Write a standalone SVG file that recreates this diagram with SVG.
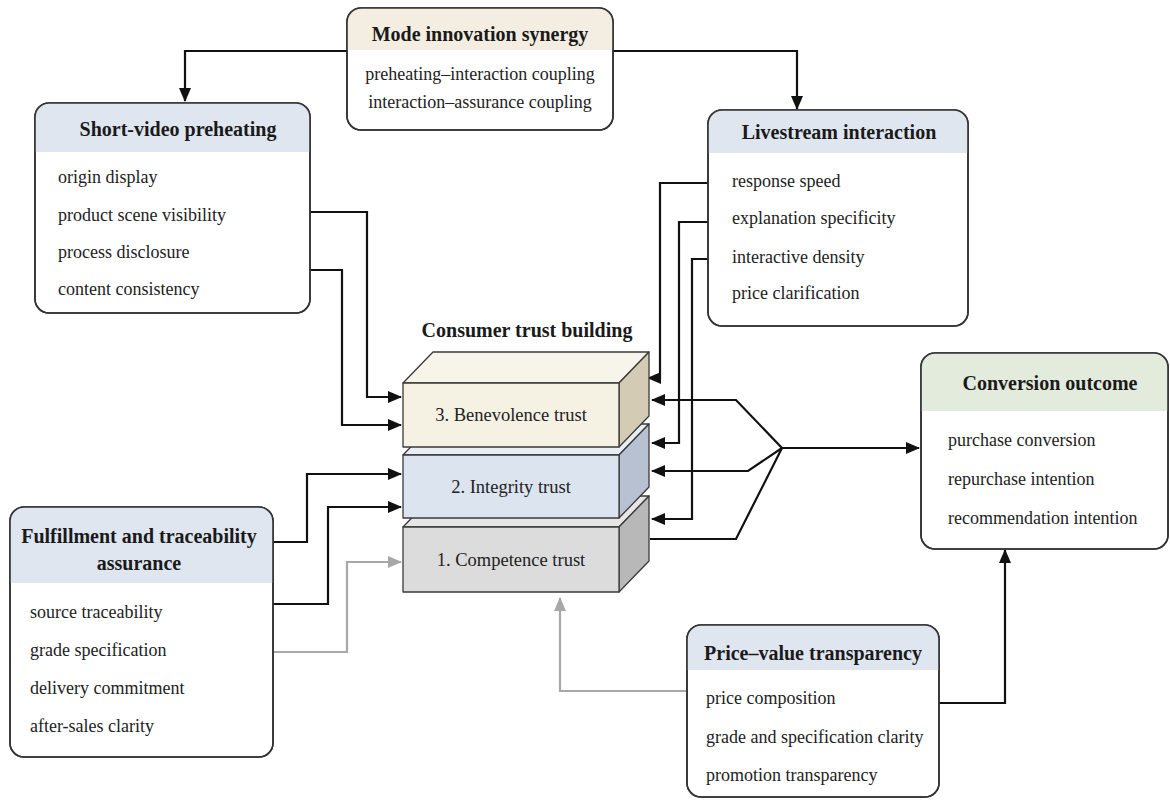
<svg xmlns="http://www.w3.org/2000/svg" width="1170" height="802" viewBox="0 0 1170 802">
<defs>
<style>
.box{fill:#ffffff;stroke:#333333;stroke-width:1.6}
.hb{fill:#dfe6f0}
.hc{fill:#f3eee1}
.hg{fill:#e3ebdd}
.t{font-family:"Liberation Serif","Times New Roman",serif;font-size:20px;font-weight:bold;fill:#1a1a1a;text-anchor:middle}
.i{font-family:"Liberation Serif","Times New Roman",serif;font-size:18px;fill:#222222}
.ic{font-family:"Liberation Serif","Times New Roman",serif;font-size:18px;fill:#222222;text-anchor:middle}
.bl{font-family:"Liberation Serif","Times New Roman",serif;font-size:18.5px;fill:#222222;text-anchor:middle}
.c{fill:none;stroke:#111111;stroke-width:2.2}
.g{fill:none;stroke:#a8a8a8;stroke-width:2.2}
.f{stroke:#3a3a3a;stroke-width:1.3;stroke-linejoin:round}
.o{fill:none;stroke:#333333;stroke-width:1.6}
</style>
<marker id="ab" markerUnits="userSpaceOnUse" markerWidth="14" markerHeight="12" refX="13" refY="6" orient="auto"><path d="M0,0 L14,6 L0,12 Z" fill="#111111"/></marker>
<marker id="ag" markerUnits="userSpaceOnUse" markerWidth="14" markerHeight="12" refX="13" refY="6" orient="auto"><path d="M0,0 L14,6 L0,12 Z" fill="#a8a8a8"/></marker>
<clipPath id="cm"><rect x="347" y="8" width="266" height="122" rx="14"/></clipPath>
<clipPath id="cs"><rect x="35" y="103" width="275" height="210" rx="14"/></clipPath>
<clipPath id="cl"><rect x="708" y="110" width="260" height="216" rx="14"/></clipPath>
<clipPath id="cf"><rect x="10" y="507" width="263" height="250" rx="14"/></clipPath>
<clipPath id="cp"><rect x="687" y="625" width="252" height="172" rx="14"/></clipPath>
<clipPath id="cc"><rect x="921" y="353" width="247" height="196" rx="14"/></clipPath>
</defs>
<rect width="1170" height="802" fill="#ffffff"/>

<g id="connectors">
<polyline class="c" points="347,51 185,51 185,101" marker-end="url(#ab)"/>
<polyline class="c" points="613,51 797,51 797,109" marker-end="url(#ab)"/>
<polyline class="c" points="310,212 367,212 367,397 401,397" marker-end="url(#ab)"/>
<polyline class="c" points="310,270 342,270 342,425 401,425" marker-end="url(#ab)"/>
<polyline class="c" points="273,542 307,542 307,474 401,474" marker-end="url(#ab)"/>
<polyline class="c" points="273,604 328,604 328,507 401,507" marker-end="url(#ab)"/>
<polyline class="g" points="273,652 347,652 347,562 401,562" marker-end="url(#ag)"/>
<polyline class="c" points="708,183 660,183 660,378 648,378" marker-end="url(#ab)"/>
<polyline class="c" points="708,222 679,222 679,443 652,443" marker-end="url(#ab)"/>
<polyline class="c" points="708,259 692,259 692,519 652,519" marker-end="url(#ab)"/>
<polyline class="c" points="782,448 736,400 652,400" marker-end="url(#ab)"/>
<polyline class="c" points="782,448 748,471 652,471" marker-end="url(#ab)"/>
<polyline class="c" points="782,448 736,539 650,539"/>
<polyline class="c" points="782,448 919,448" marker-end="url(#ab)"/>
<polyline class="g" points="687,691 560,691 560,598" marker-end="url(#ag)"/>
<polyline class="c" points="939,703 1005,703 1005,550" marker-end="url(#ab)"/>
</g>

<g id="mode-innovation-synergy">
<rect class="box" x="347" y="8" width="266" height="122" rx="14"/>
<g clip-path="url(#cm)"><rect class="hc" x="347" y="8" width="266" height="42"/></g>
<rect class="o" x="347" y="8" width="266" height="122" rx="14"/>
<text class="t" x="480" y="41">Mode innovation synergy</text>
<text class="ic" x="480" y="80">preheating–interaction coupling</text>
<text class="ic" x="480" y="108">interaction–assurance coupling</text>
</g>

<g id="short-video-preheating">
<rect class="box" x="35" y="103" width="275" height="210" rx="14"/>
<g clip-path="url(#cs)"><rect class="hb" x="35" y="103" width="275" height="49"/></g>
<rect class="o" x="35" y="103" width="275" height="210" rx="14"/>
<text class="t" x="178" y="136">Short-video preheating</text>
<text class="i" x="58" y="183">origin display</text>
<text class="i" x="58" y="221">product scene visibility</text>
<text class="i" x="58" y="258">process disclosure</text>
<text class="i" x="58" y="295">content consistency</text>
</g>

<g id="livestream-interaction">
<rect class="box" x="708" y="110" width="260" height="216" rx="14"/>
<g clip-path="url(#cl)"><rect class="hb" x="708" y="110" width="260" height="43"/></g>
<rect class="o" x="708" y="110" width="260" height="216" rx="14"/>
<text class="t" x="839" y="139">Livestream interaction</text>
<text class="i" x="732" y="187">response speed</text>
<text class="i" x="732" y="224">explanation specificity</text>
<text class="i" x="732" y="263">interactive density</text>
<text class="i" x="732" y="299">price clarification</text>
</g>

<g id="consumer-trust-building">
<text class="t" x="527" y="337">Consumer trust building</text>
</g>

<g id="competence-trust">
<polygon class="f" points="403,527 433,496 649,496 619,527" fill="#e6e6e6"/>
<polygon class="f" points="619,527 649,496 649,561 619,592" fill="#b8b8b8"/>
<rect class="f" x="403" y="527" width="216" height="65" fill="#dcdcdc"/>
<text class="bl" x="511" y="566">1. Competence trust</text>
</g>

<g id="integrity-trust">
<polygon class="f" points="403,455 433,424 649,424 619,455" fill="#e9eef5"/>
<polygon class="f" points="619,455 649,424 649,487 619,518" fill="#b7c1d1"/>
<rect class="f" x="403" y="455" width="216" height="63" fill="#dce4ef"/>
<text class="bl" x="511" y="493">2. Integrity trust</text>
</g>

<g id="benevolence-trust">
<polygon class="f" points="403,383 433,352 649,352 619,383" fill="#f7f4ea"/>
<polygon class="f" points="619,383 649,352 649,416 619,447" fill="#d4cbb4"/>
<rect class="f" x="403" y="383" width="216" height="64" fill="#f5f1e3"/>
<text class="bl" x="511" y="421">3. Benevolence trust</text>
</g>

<g id="conversion-outcome">
<rect class="box" x="921" y="353" width="247" height="196" rx="14"/>
<g clip-path="url(#cc)"><rect class="hg" x="921" y="353" width="247" height="58"/></g>
<rect class="o" x="921" y="353" width="247" height="196" rx="14"/>
<text class="t" x="1050" y="390">Conversion outcome</text>
<text class="i" x="948" y="446">purchase conversion</text>
<text class="i" x="948" y="485">repurchase intention</text>
<text class="i" x="948" y="524">recommendation intention</text>
</g>

<g id="fulfillment-traceability-assurance">
<rect class="box" x="10" y="507" width="263" height="250" rx="14"/>
<g clip-path="url(#cf)"><rect class="hb" x="10" y="507" width="263" height="76"/></g>
<rect class="o" x="10" y="507" width="263" height="250" rx="14"/>
<text class="t" x="139" y="543">Fulfillment and traceability</text>
<text class="t" x="139" y="570">assurance</text>
<text class="i" x="30" y="618">source traceability</text>
<text class="i" x="30" y="656">grade specification</text>
<text class="i" x="30" y="694">delivery commitment</text>
<text class="i" x="30" y="732">after-sales clarity</text>
</g>

<g id="price-value-transparency">
<rect class="box" x="687" y="625" width="252" height="172" rx="14"/>
<g clip-path="url(#cp)"><rect class="hb" x="687" y="625" width="252" height="45"/></g>
<rect class="o" x="687" y="625" width="252" height="172" rx="14"/>
<text class="t" x="813" y="660">Price–value transparency</text>
<text class="i" x="706" y="704">price composition</text>
<text class="i" x="706" y="743">grade and specification clarity</text>
<text class="i" x="706" y="781">promotion transparency</text>
</g>
</svg>
